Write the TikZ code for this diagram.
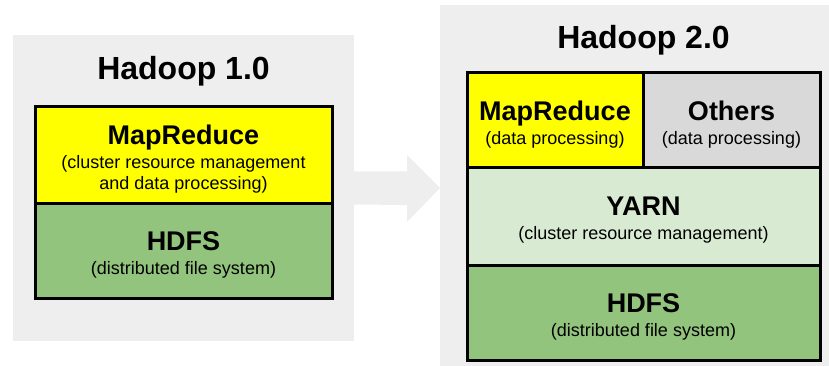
\documentclass[tikz,border=0pt]{standalone}
\usepackage{fontspec}
\setmainfont{Liberation Sans}
\usetikzlibrary{calc}
\definecolor{panelgray}{HTML}{EEEEEE}
\definecolor{mryellow}{HTML}{FFFF00}
\definecolor{hdfsgreen}{HTML}{93C47D}
\definecolor{yarngreen}{HTML}{D9EAD3}
\definecolor{othergray}{HTML}{D9D9D9}
\newcommand\layerhead[1]{{\fontsize{27}{27}\selectfont\bfseries #1}}
\begin{document}
\begin{tikzpicture}[x=1pt,y=-1pt,
  panel/.style={fill=panelgray, draw=none, anchor=north west, inner sep=0pt, outer sep=0pt},
  layertext/.style={align=center, inner sep=0pt, yshift=-4pt, font=\fontsize{18}{21}\selectfont},
  layer/.style={draw=black, line width=3pt, anchor=north west, inner sep=0pt, outer sep=0pt,
    label={[layertext]center:#1}},
  heading/.style={anchor=base, inner sep=0pt, font=\fontsize{32}{32}\selectfont\bfseries}]
\useasboundingbox (0,0) rectangle (829,366);

% background panels
\node[panel, minimum width=341pt, minimum height=306pt] (p1) at (13,35) {};
\node[panel, minimum width=389pt, minimum height=361pt] (p2) at (440,5) {};

% transition arrow between the two panels
\fill[panelgray] ($(p1.east)+(0,-16.5)$) -- ++(53,0) -- ++(0,-16.5)
  -- (p1.east -| p2.west) -- ++(-33,34) -- ++(0,-17)
  -- ($(p1.east)+(0,16.5)$) -- cycle;

% Hadoop 1.0 stack
\node[layer={\layerhead{MapReduce}\\[3pt](cluster resource management\\and data processing)},
  fill=mryellow, minimum width=297pt, minimum height=96pt] (mr1) at (35,107) {};
\node[layer={\layerhead{HDFS}\\[3pt](distributed file system)},
  fill=hdfsgreen, minimum width=297pt, minimum height=95pt] (hdfs1) at (35,203) {};
\node[heading] (t1) at ($(mr1.north)+(0,-27.5)$) {Hadoop 1.0};

% Hadoop 2.0 stack
\node[layer={\layerhead{MapReduce}\\[3pt](data processing)},
  fill=mryellow, minimum width=176pt, minimum height=95pt] (mr2) at (467,73) {};
\node[layer={\layerhead{Others}\\[3pt](data processing)},
  fill=othergray, minimum width=177pt, minimum height=95pt] (oth) at (643,73) {};
\node[layer={\layerhead{YARN}\\[3pt](cluster resource management)},
  fill=yarngreen, minimum width=353pt, minimum height=97pt] (yarn) at (467,168) {};
\node[layer={\layerhead{HDFS}\\[3pt](distributed file system)},
  fill=hdfsgreen, minimum width=353pt, minimum height=95pt] (hdfs2) at (467,265) {};
\node[heading] (t2) at ($(yarn.north)+(0,-119.5)$) {Hadoop 2.0};
\end{tikzpicture}
\end{document}
